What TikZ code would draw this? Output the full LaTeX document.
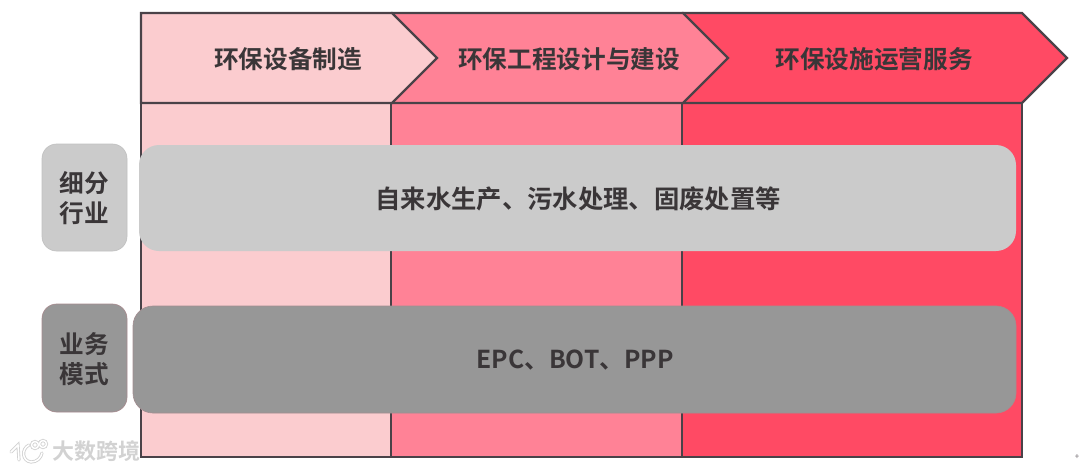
\documentclass[tikz,border=0pt]{standalone}
\usepackage{fontspec}
\setmainfont{Noto Sans CJK SC}[BoldFont={Noto Sans CJK SC Bold}]
\definecolor{pinkA}{HTML}{FBCCCF}
\definecolor{pinkB}{HTML}{FF8296}
\definecolor{pinkC}{HTML}{FF4A64}
\definecolor{edgeC}{HTML}{4A4248}
\definecolor{greyA}{HTML}{CBCBCB}
\definecolor{greyB}{HTML}{979797}
\definecolor{inkC}{HTML}{3A3638}
\definecolor{markC}{HTML}{D2D2D2}
\tikzset{
  outline/.style={draw=edgeC,line width=1.7pt,line join=miter},
  label text/.style={font=\bfseries\fontsize{18.5pt}{22pt}\selectfont,text=inkC,inner sep=0pt},
  small label/.style={font=\bfseries\fontsize{18.5pt}{23pt}\selectfont,text=inkC,inner sep=0pt,align=center},
  band/.style={rounded corners=15pt,line width=.5pt},
  logo under/.style={draw=markC,line width=2.4pt,line cap=round},
  logo over/.style={draw=white,line width=1.1pt,line cap=round},
}
\begin{document}
\begin{tikzpicture}[x=0.75pt,y=-0.75pt]
\useasboundingbox (0,0) rectangle (1080,472);
% columns
\path[fill=pinkA] (141,103) rectangle (391,457);
\path[fill=pinkB] (391,103) rectangle (682,457);
\path[fill=pinkC] (682,103) rectangle (1022,457);
\draw[outline] (141,103) rectangle (391,457);
\draw[outline] (391,103) rectangle (682,457);
\draw[outline] (682,103) rectangle (1022,457);
% chevrons
\draw[outline,fill=pinkC] (683,13) -- (1022,13) -- (1067,58) -- (1022,103) -- (683,103) -- cycle;
\draw[outline,fill=pinkB] (392,13) -- (683,13) -- (728,58) -- (683,103) -- (392,103) -- cycle;
\draw[outline,fill=pinkA] (141,13) -- (392,13) -- (437,58) -- (392,103) -- (141,103) -- cycle;
\node[label text] (h1) at (288,59) {环保设备制造};
\node[label text] (h2) at (569,59) {环保工程设计与建设};
\node[label text] (h3) at (874,59) {环保设施运营服务};
% bands
\path[band,fill=greyA] (139,145) rectangle (1016,251);
\path[band,fill=greyB,draw=greyB!88!pinkC] (133,306) rectangle (1016,413);
\node[label text,font=\bfseries\fontsize{19pt}{22pt}\selectfont] (b1) at (578,199) {自来水生产、污水处理、固废处置等};
\node[label text] (b2) at (575,360) {EPC、BOT、PPP};
% side labels
\path[band,rounded corners=11pt,fill=greyA,draw=greyA!95!black] (42,144) rectangle (127,251);
\path[band,rounded corners=11pt,fill=greyB,draw=greyB!85!pinkC] (42,304) rectangle (127,412);
\node[small label] (s1) at (84,198) {细分\\行业};
\node[small label] (s2) at (84,359) {业务\\模式};
% watermark
\node[inner sep=0pt,font=\bfseries\fontsize{16.5pt}{18pt}\selectfont,text=markC] (wm) at (96,451) {大数跨境};
\foreach \st in {logo under,logo over}{
  \draw[\st] (11,452) -- (18,445) -- (19,460);
  \draw[\st] (29,445) .. controls (21,449) and (22,461) .. (31,462) .. controls (37,462) and (41,458) .. (42,453);
  \draw[\st] (35,445) circle (3.5);
  \draw[\st] (43,444) circle (3.5);
}
\node[inner sep=0pt,font=\fontsize{6pt}{6pt}\selectfont,text=edgeC!80] (mark) at (1077,457) {+};
\end{tikzpicture}
\end{document}
